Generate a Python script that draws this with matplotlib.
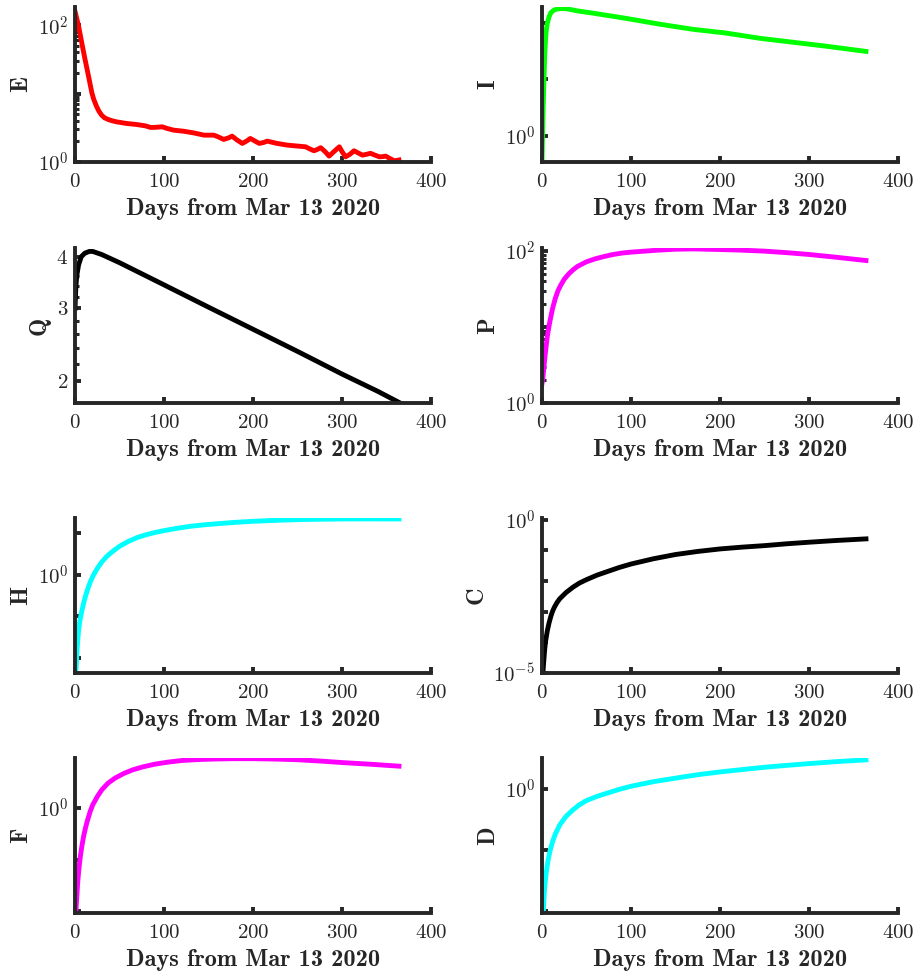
## Import Libraries
import numpy as np
import matplotlib
matplotlib.use('Agg')
import matplotlib.pyplot as plt
from matplotlib.ticker import FixedLocator, FixedFormatter, NullLocator, NullFormatter, LogLocator

plt.rcParams['mathtext.fontset'] = 'cm'
plt.rcParams['font.family'] = 'cmr10'
plt.rcParams['axes.formatter.use_mathtext'] = True

## Data
# E
e_days = [0, 4, 8, 11, 15, 19, 21, 24, 27, 30, 33, 37, 42, 47, 58, 69, 79, 85, 91, 98, 104,
          111, 122, 133, 145, 156, 161, 167, 172, 176.5, 182, 188, 193, 197, 202, 207, 212,
          216, 221, 227, 238, 250, 259, 264, 268.5, 272, 276, 281, 285.5, 291, 297, 300, 304,
          309, 313.5, 318, 323, 328, 332, 337, 342, 346, 349, 354, 359, 364]
e_vals = [160, 98, 52, 33, 18.5, 10.2, 8.3, 6.6, 5.5, 4.83, 4.45, 4.2, 4.0, 3.86, 3.66, 3.54,
          3.38, 3.2, 3.22, 3.27, 3.08, 2.92, 2.82, 2.67, 2.47, 2.47, 2.33, 2.14, 2.24, 2.39,
          2.1, 1.87, 2.03, 2.21, 2.03, 1.87, 1.93, 2.02, 1.95, 1.87, 1.77, 1.71, 1.67, 1.55,
          1.46, 1.52, 1.62, 1.42, 1.22, 1.42, 1.67, 1.42, 1.19, 1.3, 1.46, 1.36, 1.26, 1.3,
          1.34, 1.26, 1.19, 1.2, 1.22, 1.12, 1.04, 1.07]
# I
i_days = [0, 1, 2, 3, 4, 5, 6, 8, 10, 13, 17, 22, 28, 40, 58, 95, 133, 170, 207, 245, 282, 320, 364]
i_vals = [0.34, 2.0, 7.9, 25, 52.5, 79.4, 100, 132, 155, 170, 180, 183, 181, 166, 151, 122,
          96, 78, 67, 54, 46, 39, 31.6]
# Q
q_days = [0, 1, 2, 4, 7, 11, 16, 20, 30, 50, 100, 150, 200, 250, 300, 340, 364]
q_vals = [3.0, 3.4, 3.6, 3.82, 4.0, 4.08, 4.12, 4.12, 4.05, 3.87, 3.42, 3.02, 2.67, 2.36,
          2.08, 1.89, 1.776]
# P
p_days = [0, 1, 2, 3, 4, 5, 6, 8, 10, 12, 15, 18, 21, 25, 30, 35, 40, 50, 60, 70, 80, 90,
          100, 115, 130, 150, 170, 200, 225, 250, 275, 300, 330, 364]
p_vals = [1.8, 2.14, 2.82, 3.72, 4.79, 6.03, 7.59, 10.5, 13.8, 17.8, 24, 30.2, 35.5, 42.7,
          50.1, 56.9, 63.1, 72.4, 79.4, 85.1, 90.4, 94.4, 97, 100, 103, 106, 107, 105, 103,
          100, 95.5, 90.4, 83.2, 75.3]
# H
h_days = [1, 2, 3, 4, 5, 6, 8, 10, 12, 15, 18, 21, 25, 30, 35, 40, 45, 50, 60, 70, 80, 90,
          100, 115, 130, 145, 160, 180, 200, 225, 250, 275, 300, 330, 364]
h_vals = [0.0045, 0.012, 0.025, 0.045, 0.066, 0.09, 0.145, 0.22, 0.316, 0.5, 0.74, 1.0, 1.41,
          2.0, 2.65, 3.3, 4.0, 4.8, 6.3, 7.8, 9.1, 10.3, 11.4, 13.0, 14.5, 15.7, 16.7, 18.0,
          19.1, 20.1, 20.9, 21.4, 21.7, 21.8, 21.7]
# C
c_days = [1, 2, 3, 4, 6, 8, 10, 12, 14, 17, 20, 27, 35, 42, 50, 62, 75, 87, 100, 125, 150,
          175, 200, 225, 250, 275, 300, 330, 364]
c_vals = [1e-5, 2.5e-5, 5.75e-5, 1.07e-4, 2.4e-4, 4.37e-4, 7.1e-4, 1.05e-3, 1.41e-3, 2.0e-3,
          2.63e-3, 4.17e-3, 6.3e-3, 8.5e-3, 0.011, 0.0155, 0.0209, 0.0275, 0.0355, 0.0525,
          0.0724, 0.0912, 0.11, 0.126, 0.141, 0.162, 0.182, 0.207, 0.234]
# F
f_days = [1, 2, 3, 4, 5, 6, 7, 8, 10, 12, 14, 17, 20, 25, 30, 37, 45, 55, 65, 77, 90, 105,
          120, 140, 160, 180, 200, 225, 250, 275, 300, 330, 364]
f_vals = [0.01, 0.019, 0.0355, 0.056, 0.083, 0.115, 0.151, 0.195, 0.302, 0.427, 0.575, 0.851,
          1.16, 1.66, 2.24, 3.02, 3.8, 4.68, 5.5, 6.31, 7.08, 7.76, 8.32, 8.71, 8.91, 9.02,
          9.02, 8.87, 8.61, 8.13, 7.59, 7.08, 6.46]
# D
d_days = [1.5, 2, 3, 4, 5, 6, 7, 9, 12, 15, 20, 27, 35, 42, 50, 62, 75, 87, 100, 125, 150,
          175, 200, 225, 250, 275, 300, 330, 364]
d_vals = [0.0091, 0.0141, 0.024, 0.0339, 0.0447, 0.0562, 0.0692, 0.0955, 0.138, 0.182, 0.257,
          0.355, 0.457, 0.55, 0.646, 0.759, 0.871, 0.989, 1.11, 1.32, 1.51, 1.72, 1.91, 2.09,
          2.28, 2.45, 2.62, 2.82, 3.02]

x_ticks = [0, 100, 200, 300, 400]
x_label = 'Days from Mar 13 2020'

# name, days, values, colour, ylim, yticks, ytick labels, minor ticks
panels = [
    ('E', e_days, e_vals, 'red', (1, 185), [1, 10, 100], [r'$10^{0}$', '', r'$10^{2}$'], 'log'),
    ('I', i_days, i_vals, '#00ff00', (0.34, 195), [1, 10, 100], [r'$10^{0}$', '', ''], None),
    ('Q', q_days, q_vals, 'black', (1.77, 4.2), [2, 3, 4], ['$2$', '$3$', '$4$'],
     [2.2, 2.4, 2.6, 2.8, 3.2, 3.4, 3.6, 3.8]),
    ('P', p_days, p_vals, 'magenta', (1, 110), [1, 10, 100], [r'$10^{0}$', '', r'$10^{2}$'], 'log'),
    ('H', h_days, h_vals, 'cyan', (0.00437, 22.9), [0.01, 0.1, 1, 10], ['', '', r'$10^{0}$', ''], None),
    ('C', c_days, c_vals, 'black', (1e-5, 1.12), [1e-5, 1e-4, 1e-3, 1e-2, 1e-1, 1],
     [r'$10^{-5}$', '', '', '', '', r'$10^{0}$'], None),
    ('F', f_days, f_vals, 'magenta', (0.0093, 9.3), [0.01, 0.1, 1], ['', '', r'$10^{0}$'], None),
    ('D', d_days, d_vals, 'cyan', (0.0091, 3.24), [0.01, 0.1, 1], ['', '', r'$10^{0}$'], None),
]

## Layout (pixels)
W, H = 918, 977
col_left = [75, 542]
col_width = 356
row_top = [7, 248, 518, 758]
row_height = 155
dark = '#262626'

fig = plt.figure(figsize=(W / 100, H / 100), dpi=100)

for k, (name, days, vals, color, ylim, yt, ytl, minor) in enumerate(panels):
    r, c = k // 2, k % 2
    ax = fig.add_axes([col_left[c] / W, 1 - (row_top[r] + row_height) / H,
                       col_width / W, row_height / H])
    ax.plot(days, vals, color=color, lw=3.5, solid_joinstyle='round')
    ax.set_yscale('log')
    ax.set_xlim(0, 400)
    ax.set_ylim(*ylim)
    ax.set_xticks(x_ticks)
    ax.set_xticklabels(['$%d$' % t for t in x_ticks])
    ax.yaxis.set_major_locator(FixedLocator(yt))
    ax.yaxis.set_major_formatter(FixedFormatter(ytl))
    if minor == 'log':
        ax.yaxis.set_minor_locator(LogLocator(subs=np.arange(2, 10)))
    elif minor is None:
        ax.yaxis.set_minor_locator(NullLocator())
    else:
        ax.yaxis.set_minor_locator(FixedLocator(minor))
    ax.yaxis.set_minor_formatter(NullFormatter())
    ax.xaxis.set_minor_locator(NullLocator())

    for s in ['top', 'right']:
        ax.spines[s].set_visible(False)
    for s in ['left', 'bottom']:
        ax.spines[s].set_linewidth(2.8)
        ax.spines[s].set_color(dark)
    ax.tick_params(which='major', direction='in', length=4, width=2.8, color=dark,
                   labelsize=15, labelcolor=dark, pad=5)
    ax.tick_params(axis='x', which='major', pad=8)
    ax.tick_params(which='minor', direction='in', length=3, width=2.2, color=dark)
    ax.set_xlabel(x_label, fontsize=17.5, fontfamily='cmb10', color=dark, labelpad=5)
    ax.set_ylabel(name, fontsize=17.5, fontfamily='cmb10', color=dark)
    ax.patch.set_alpha(0)

plt.savefig('out.png', dpi=100)
